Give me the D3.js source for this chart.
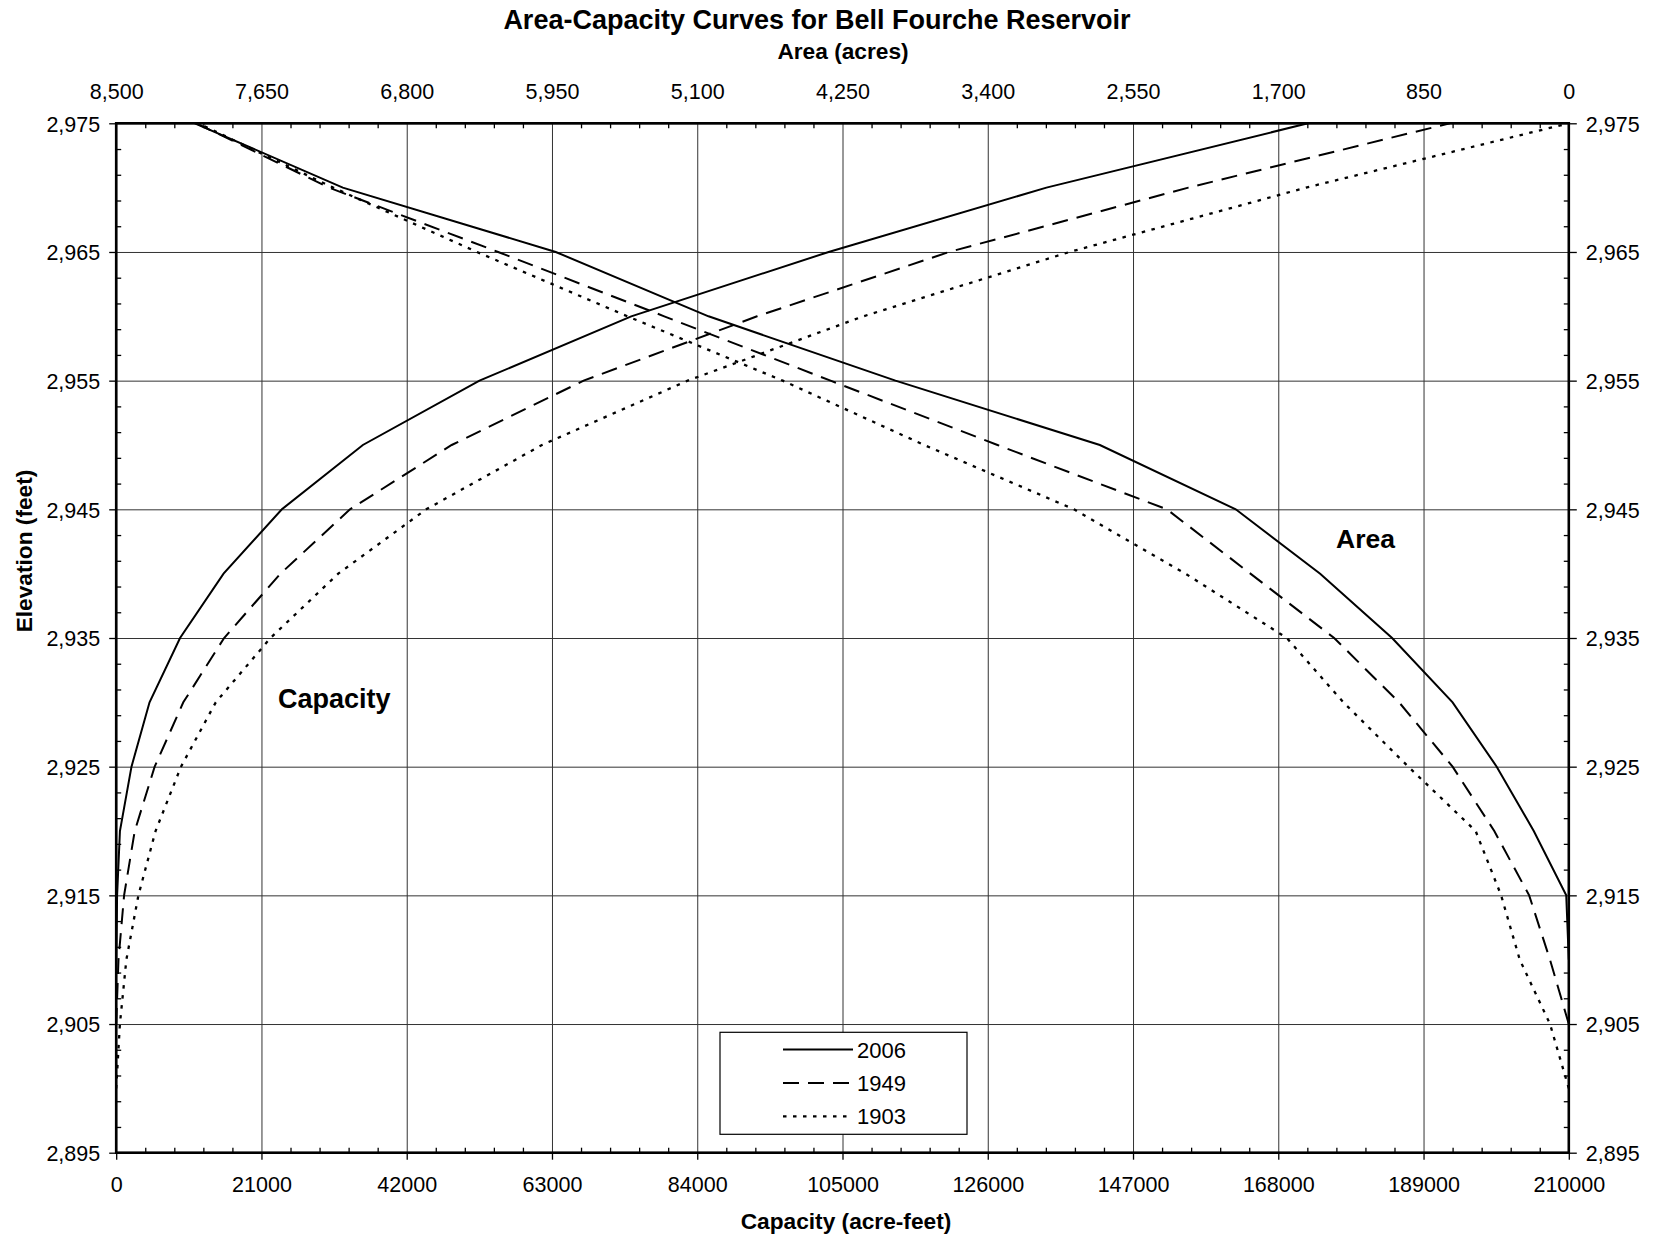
<!DOCTYPE html>
<html>
<head>
<meta charset="utf-8">
<script src="https://cdn.jsdelivr.net/npm/d3@7"></script>
<style>
  body { margin: 0; background: #fff; }
  svg { display: block; font-family: "Liberation Sans", Arial, Helvetica, sans-serif; }
</style>
</head>
<body>
<div id="chart"></div>
<script>
// elevation of each table row (feet)
var elevations = [2900, 2905, 2910, 2915, 2920, 2925, 2930, 2935, 2940, 2945, 2950, 2955, 2960, 2965, 2970, 2975];

// capacity (acre-feet) by survey, null = below the bottom of that survey
var capacity2006 = [null, null, 0, 130, 540, 2210, 4820, 9230, 15520, 23950, 35660, 52520, 74460, 103000, 134480, 172300];
var capacity1949 = [null, 0, 330, 1140, 2680, 5560, 9700, 15600, 23750, 33800, 48500, 67570, 92650, 120400, 155000, 192800];
var capacity1903 = [0, 535, 1470, 3210, 5690, 9370, 14390, 22300, 32100, 44820, 61550, 82620, 108000, 137830, 172000, 210000];

// surface area (acres) by survey
var area2006 = [null, null, 0, 15, 205, 422, 680, 1034, 1455, 1949, 2744, 3940, 5034, 5928, 7174, 8040];
var area1949 = [null, 0, 110, 232, 436, 680, 993, 1373, 1863, 2352, 3343, 4320, 5293, 6265, 7255, 8030];
var area1903 = [0, 110, 287, 396, 545, 939, 1319, 1650, 2243, 2895, 3772, 4600, 5508, 6389, 7230, 8020];

var surveys = ["2006", "1949", "1903"];

// tick labels
var capacityTicks = [0, 21000, 42000, 63000, 84000, 105000, 126000, 147000, 168000, 189000, 210000];
var areaTicks = [8500, 7650, 6800, 5950, 5100, 4250, 3400, 2550, 1700, 850, 0];
var elevationTicks = [2895, 2905, 2915, 2925, 2935, 2945, 2955, 2965, 2975];

var svgWidth = 1656;
var svgHeight = 1238;

var margin = {
  top: 123.3,
  right: 87.2,
  bottom: 85.3,
  left: 116.2
};

var width = svgWidth - margin.left - margin.right;
var height = svgHeight - margin.top - margin.bottom;

// line look per survey
var dashes = { "2006": null, "1949": "16,9", "1903": "3.5,6.5" };

var svg = d3.select("#chart")
  .append("svg")
  .attr("width", svgWidth)
  .attr("height", svgHeight);

var chartGroup = svg.append("g")
  .attr("transform", `translate(${margin.left}, ${margin.top})`);

// scales
var xCapacity = d3.scaleLinear().domain([0, 210000]).range([0, width]);
var xArea = d3.scaleLinear().domain([8500, 0]).range([0, width]);
var yElev = d3.scaleLinear().domain([2895, 2975]).range([height, 0]);

// minor tick positions: 5 per major interval
var capacityMinor = d3.range(0, 210001, 4200).filter(d => d % 21000 !== 0);
var elevMinor = d3.range(2895, 2976, 2).filter(d => (d - 2895) % 10 !== 0);

// grid lines
chartGroup.append("g")
  .attr("transform", `translate(0, ${height})`)
  .call(d3.axisBottom(xCapacity).tickValues(capacityTicks).tickSize(-height).tickFormat(""))
  .call(g => g.select(".domain").remove())
  .selectAll("line")
    .attr("stroke", "#333")
    .attr("stroke-width", 1);

chartGroup.append("g")
  .call(d3.axisLeft(yElev).tickValues(elevationTicks).tickSize(-width).tickFormat(""))
  .call(g => g.select(".domain").remove())
  .selectAll("line")
    .attr("stroke", "#333")
    .attr("stroke-width", 1);

function styleAxis(g) {
  g.select(".domain").remove();
  g.selectAll("line").attr("stroke", "#000").attr("stroke-width", 1.3);
  g.selectAll("text")
    .attr("font-size", "21.5px")
    .attr("fill", "#000");
}

// bottom axis: capacity
chartGroup.append("g")
  .attr("transform", `translate(0, ${height})`)
  .call(d3.axisBottom(xCapacity).tickValues(capacityTicks).tickSize(7).tickFormat(d3.format("d")))
  .call(styleAxis)
  .selectAll("text")
    .attr("y", 39.8)
    .attr("dy", null);

chartGroup.append("g")
  .attr("transform", `translate(0, ${height})`)
  .call(d3.axisBottom(xCapacity).tickValues(capacityMinor).tickSize(-5).tickFormat(""))
  .call(styleAxis);

// top axis: area (reversed)
chartGroup.append("g")
  .call(d3.axisTop(xArea).tickValues(areaTicks).tickSize(0).tickFormat(d3.format(",")))
  .call(styleAxis)
  .selectAll("text")
    .attr("y", -24.3)
    .attr("dy", null);

chartGroup.append("g")
  .call(d3.axisTop(xCapacity).tickValues(capacityMinor).tickSize(-5).tickFormat(""))
  .call(styleAxis);

// left axis: elevation
chartGroup.append("g")
  .call(d3.axisLeft(yElev).tickValues(elevationTicks).tickSize(7).tickFormat(d3.format(",")))
  .call(styleAxis)
  .selectAll("text")
    .attr("x", -16)
    .attr("dy", "0.37em");

chartGroup.append("g")
  .call(d3.axisLeft(yElev).tickValues(elevMinor).tickSize(-5).tickFormat(""))
  .call(styleAxis);

// right axis: elevation
chartGroup.append("g")
  .attr("transform", `translate(${width}, 0)`)
  .call(d3.axisRight(yElev).tickValues(elevationTicks).tickSize(8).tickFormat(d3.format(",")))
  .call(styleAxis)
  .selectAll("text")
    .attr("x", 17)
    .attr("dy", "0.37em");

chartGroup.append("g")
  .attr("transform", `translate(${width}, 0)`)
  .call(d3.axisRight(yElev).tickValues(elevMinor).tickSize(-5).tickFormat(""))
  .call(styleAxis);

// curves
chartGroup.append("clipPath")
  .attr("id", "plot-clip")
  .append("rect")
    .attr("x", -2)
    .attr("y", -2)
    .attr("width", width + 4)
    .attr("height", height + 4);

var capacityLine = d3.line()
  .defined(d => d.v != null)
  .x(d => xCapacity(d.v))
  .y(d => yElev(d.elev));

var areaLine = d3.line()
  .defined(d => d.v != null)
  .x(d => xArea(d.v))
  .y(d => yElev(d.elev));

function rows(values) {
  return elevations.map((e, i) => ({ elev: e, v: values[i] }));
}

var capacitySeries = { "2006": capacity2006, "1949": capacity1949, "1903": capacity1903 };
var areaSeries = { "2006": area2006, "1949": area1949, "1903": area1903 };

var curves = chartGroup.append("g").attr("clip-path", "url(#plot-clip)");

surveys.forEach(function(s) {
  curves.append("path")
    .datum(rows(capacitySeries[s]))
    .attr("d", capacityLine)
    .attr("fill", "none")
    .attr("stroke", "#000")
    .attr("stroke-width", s === "1903" ? 2.3 : 2)
    .attr("stroke-dasharray", dashes[s]);

  curves.append("path")
    .datum(rows(areaSeries[s]))
    .attr("d", areaLine)
    .attr("fill", "none")
    .attr("stroke", "#000")
    .attr("stroke-width", s === "1903" ? 2.3 : 2)
    .attr("stroke-dasharray", dashes[s]);
});

// plot frame
chartGroup.append("rect")
  .attr("width", width)
  .attr("height", height)
  .attr("fill", "none")
  .attr("stroke", "#000")
  .attr("stroke-width", 2.6);

// curve labels
chartGroup.append("text")
  .attr("x", 278 - margin.left)
  .attr("y", 708 - margin.top)
  .attr("font-size", "27px")
  .attr("font-weight", "bold")
  .text("Capacity");

chartGroup.append("text")
  .attr("x", 1336 - margin.left)
  .attr("y", 548 - margin.top)
  .attr("font-size", "26.5px")
  .attr("font-weight", "bold")
  .text("Area");

// legend
var legend = chartGroup.append("g")
  .attr("transform", `translate(${720 - margin.left}, ${1032.3 - margin.top})`);

legend.append("rect")
  .attr("width", 247)
  .attr("height", 102)
  .attr("fill", "#fff")
  .attr("stroke", "#000")
  .attr("stroke-width", 1.2);

surveys.forEach(function(s, i) {
  var ly = 17.3 + i * 33.4;
  legend.append("line")
    .attr("x1", 63)
    .attr("x2", 133)
    .attr("y1", ly)
    .attr("y2", ly)
    .attr("stroke", "#000")
    .attr("stroke-width", s === "1903" ? 2.3 : 2)
    .attr("stroke-dasharray", dashes[s]);
  legend.append("text")
    .attr("x", 137)
    .attr("y", ly + 8)
    .attr("font-size", "22px")
    .text(s);
});

// titles
svg.append("text")
  .attr("x", 817)
  .attr("y", 29)
  .attr("text-anchor", "middle")
  .attr("font-size", "27px")
  .attr("font-weight", "bold")
  .text("Area-Capacity Curves for Bell Fourche Reservoir");

svg.append("text")
  .attr("x", 843)
  .attr("y", 58.5)
  .attr("text-anchor", "middle")
  .attr("font-size", "22.7px")
  .attr("font-weight", "bold")
  .text("Area (acres)");

svg.append("text")
  .attr("x", 846)
  .attr("y", 1228.5)
  .attr("text-anchor", "middle")
  .attr("font-size", "22.7px")
  .attr("font-weight", "bold")
  .text("Capacity (acre-feet)");

svg.append("text")
  .attr("transform", "translate(31.5, 551) rotate(-90)")
  .attr("text-anchor", "middle")
  .attr("font-size", "22.7px")
  .attr("font-weight", "bold")
  .text("Elevation (feet)");
</script>
</body>
</html>
